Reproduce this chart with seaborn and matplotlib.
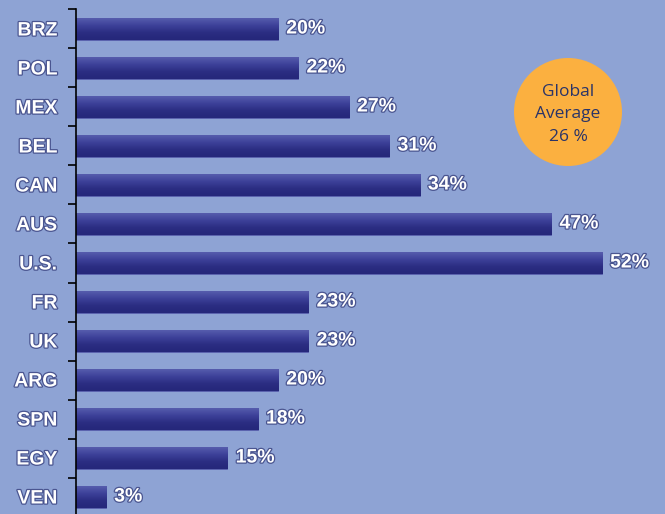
import numpy as np
import pandas as pd
import matplotlib
matplotlib.use("Agg")
import matplotlib.pyplot as plt
import matplotlib.patheffects as pe
from matplotlib.patches import Ellipse
from matplotlib.colors import LinearSegmentedColormap
import seaborn as sns

countries = ["BRZ", "POL", "MEX", "BEL", "CAN", "AUS", "U.S.", "FR", "UK", "ARG", "SPN", "EGY", "VEN"]
values = [20, 22, 27, 31, 34, 47, 52, 23, 23, 20, 18, 15, 3]
avg_lines = ["Global", "Average", "26 %"]

BG = "#8EA3D4"
sns.set_theme(style="white")
plt.rcParams["font.family"] = ["Liberation Sans", "DejaVu Sans"]

lab_family = ["Liberation Sans", "DejaVu Sans"]
lab_size = 14

df = pd.DataFrame({"country": countries, "value": values})

fig = plt.figure(figsize=(6.65, 5.14), dpi=100, facecolor=BG)
ax = fig.add_axes([75.5 / 665, -2.5 / 514, 590 / 665, 507 / 514])
ax.set_facecolor(BG)

sns.barplot(data=df, x="value", y="country", orient="h", color="#35388F",
            width=0.56, ax=ax, saturation=1, edgecolor="#5A62AE", linewidth=0.6)

grad = LinearSegmentedColormap.from_list("g", ["#565CAD", "#3D4199", "#2B2D82", "#25277A"])
gimg = np.linspace(0, 1, 64).reshape(-1, 1)
for p in ax.patches:
    bb = p.get_bbox()
    im = ax.imshow(gimg, cmap=grad, aspect="auto", interpolation="bilinear",
                   extent=[bb.x0, bb.x1, bb.y1, bb.y0], zorder=p.get_zorder() + 0.1)
    im.set_clip_path(p)

ax.set_xlim(0, 58.3)
ax.set_ylim(12.5, -0.5)

shadow = [pe.withStroke(linewidth=1.8, foreground="#4A5590")]
lab_kw = dict(fontsize=lab_size, fontweight="bold", color="white", family=lab_family)

ax.bar_label(ax.containers[0], labels=[f"{v}%" for v in values], padding=6,
             path_effects=shadow, zorder=5, **lab_kw)

ax.set_xlabel("")
ax.set_ylabel("")
ax.set_xticks([])
ax.set_yticks(range(len(countries)))
ax.set_yticklabels(countries)
for t in ax.get_yticklabels():
    t.set_fontsize(lab_size)
    t.set_fontweight("bold")
    t.set_color("white")
    t.set_family(lab_family)
    t.set_path_effects(shadow)
ax.tick_params(axis="y", which="major", length=0, pad=13)
ax.set_yticks(np.arange(-0.5, len(countries), 1.0), minor=True)
ax.tick_params(axis="y", which="minor", length=6, width=1.2, color="black", direction="out", left=True)

for s in ["top", "right", "bottom"]:
    ax.spines[s].set_visible(False)
ax.spines["left"].set_color("black")
ax.spines["left"].set_linewidth(1.2)

# Global average badge
cx, cy, r = 568, 112, 54
fig.patches.append(Ellipse((cx / 665, 1 - cy / 514), 2 * r / 665, 2 * r / 514,
                           transform=fig.transFigure, facecolor="#FBB040", edgecolor="none", zorder=10))
for i, line in enumerate(avg_lines):
    fig.text(cx / 665, 1 - (92 + i * 22.5) / 514, line, ha="center", va="center",
             fontsize=12.5, color="#2A3468", family=["Open Sans", "DejaVu Sans"], zorder=11)

fig.savefig("out.png", dpi=100, facecolor=BG)
